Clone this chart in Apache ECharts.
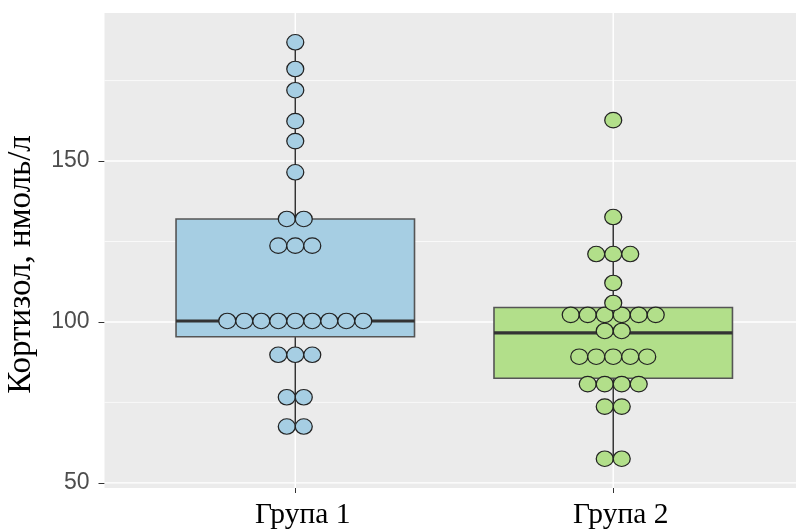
<!DOCTYPE html>
<html>
<head>
<meta charset="utf-8">
<script src="https://cdn.jsdelivr.net/npm/echarts@6/dist/echarts.min.js"></script>
<style>
  html, body { margin: 0; padding: 0; background: #fff; }
  #chart { width: 796px; height: 529px; }
</style>
</head>
<body>
<div id="chart"></div>
<script>
// Groups and their positions on the discrete x scale
const groups = ['Група 1', 'Група 2'];
const groupPositions = [1, 2];

// Five-number summaries: [lower whisker, Q1, median, Q3, upper whisker]
const boxGroup1 = [67.5, 95.4, 100.3, 132.0, 186.9];
const boxGroup2 = [57.5, 82.5, 96.6, 104.5, 132.6];

// Binned observations (bin centres), one entry per dot
const dotsGroup1 = [
  67.5, 67.5, 76.6, 76.6, 89.8, 89.8, 89.8,
  100.3, 100.3, 100.3, 100.3, 100.3, 100.3, 100.3, 100.3, 100.3,
  123.7, 123.7, 123.7, 132.0, 132.0,
  146.5, 156.2, 162.4, 172.0, 178.6, 186.9
];
const dotsGroup2 = [
  57.5, 57.5, 73.7, 73.7, 80.7, 80.7, 80.7, 80.7,
  89.2, 89.2, 89.2, 89.2, 89.2, 97.2, 97.2,
  102.2, 102.2, 102.2, 102.2, 102.2, 102.2,
  105.9, 112.1, 121.1, 121.1, 121.1, 132.6, 162.7
];

// Axis breaks
const yTicks = [50, 100, 150];
const yMinorBreaks = [75, 125, 175];

const fills = ['#A6CEE3', '#B2DF8A'];
const boxWidth = 0.75;
const dotW = 17, dotH = 15.5;

// Centred stacking: dots sharing a bin are spread sideways around the group centre
function stackDots(values, pos) {
  const counts = {};
  values.forEach(v => { counts[v] = (counts[v] || 0) + 1; });
  const seen = {};
  return values.map(v => {
    const i = seen[v] = (seen[v] === undefined ? 0 : seen[v] + 1);
    const dx = (i - (counts[v] - 1) / 2) * dotW;
    return { value: [pos, v], symbolOffset: [dx, 0] };
  });
}

const chart = echarts.init(document.getElementById('chart'), null, { renderer: 'canvas' });

const boxData = [
  [groupPositions[0]].concat(boxGroup1),
  [groupPositions[1]].concat(boxGroup2)
];

const option = {
  animation: false,
  grid: {
    left: 104.5, right: -8, top: 13, bottom: 41,
    outerBoundsMode: 'none', containLabel: false,
    show: true, backgroundColor: '#EBEBEB', borderWidth: 0
  },
  xAxis: {
    type: 'value', min: 0.4, max: 2.6,
    axisLine: { show: false },
    splitLine: { show: false },
    axisTick: { show: true, customValues: groupPositions, length: 5, lineStyle: { color: '#333', width: 1 } },
    axisLabel: {
      customValues: groupPositions,
      formatter: v => groups[Math.round(v) - 1],
      fontFamily: 'Liberation Serif', fontSize: 29.5, color: '#000', margin: 12,
      padding: [0, 0, 0, 15]
    }
  },
  yAxis: {
    type: 'value', min: 48.4, max: 196,
    axisLine: { show: false },
    splitLine: { show: false },
    axisTick: { show: true, customValues: yTicks, length: 6, lineStyle: { color: '#333', width: 1 } },
    axisLabel: {
      customValues: yTicks,
      fontFamily: 'Liberation Sans', fontSize: 23, color: '#4D4D4D', margin: 15
    },
    name: 'Кортизол, нмоль/л',
    nameLocation: 'middle', nameRotate: 90, nameGap: 67,
    nameTextStyle: { fontFamily: 'Liberation Serif', fontSize: 33, color: '#000', padding: [0, 28, 0, 0] }
  },
  series: [
    {
      // horizontal panel grid lines (major and minor)
      type: 'custom', silent: true, z: 1,
      data: yTicks.map(v => [1, v, 1.4]).concat(yMinorBreaks.map(v => [1, v, 0.7])),
      renderItem(params, api) {
        const cs = params.coordSys;
        const p = api.coord([1, api.value(1)]);
        return {
          type: 'line',
          shape: { x1: cs.x, y1: p[1], x2: cs.x + cs.width, y2: p[1] },
          style: { stroke: '#FFFFFF', lineWidth: api.value(2) }
        };
      }
    },
    {
      // vertical panel grid lines at each group
      type: 'custom', silent: true, z: 1,
      data: groupPositions.map(p => [p, 100]),
      renderItem(params, api) {
        const cs = params.coordSys;
        const p = api.coord([api.value(0), 100]);
        return {
          type: 'line',
          shape: { x1: p[0], y1: cs.y, x2: p[0], y2: cs.y + cs.height },
          style: { stroke: '#FFFFFF', lineWidth: 1.4 }
        };
      }
    },
    {
      // box and whiskers
      type: 'custom', silent: true, z: 2,
      data: boxData,
      encode: { x: 0, y: [1, 2, 3, 4, 5] },
      renderItem(params, api) {
        const x = api.value(0);
        const lo = api.value(1), q1 = api.value(2), med = api.value(3), q3 = api.value(4), hi = api.value(5);
        const h = boxWidth / 2;
        const pLo = api.coord([x, lo]), pHi = api.coord([x, hi]);
        const pQ1 = api.coord([x, q1]), pQ3 = api.coord([x, q3]);
        const bl = api.coord([x - h, q1]), tr = api.coord([x + h, q3]);
        const mL = api.coord([x - h, med]), mR = api.coord([x + h, med]);
        return {
          type: 'group',
          children: [
            { type: 'line', shape: { x1: pLo[0], y1: pLo[1], x2: pQ1[0], y2: pQ1[1] }, style: { stroke: '#333', lineWidth: 1.5 } },
            { type: 'line', shape: { x1: pQ3[0], y1: pQ3[1], x2: pHi[0], y2: pHi[1] }, style: { stroke: '#333', lineWidth: 1.5 } },
            { type: 'rect', shape: { x: bl[0], y: tr[1], width: tr[0] - bl[0], height: bl[1] - tr[1] },
              style: { fill: fills[params.dataIndex], stroke: '#555', lineWidth: 1.6 } },
            { type: 'line', shape: { x1: mL[0], y1: mL[1], x2: mR[0], y2: mR[1] }, style: { stroke: '#333', lineWidth: 3.2 } }
          ]
        };
      }
    },
    {
      type: 'scatter', z: 3, silent: true,
      symbol: 'circle', symbolSize: [dotW, dotH],
      itemStyle: { color: fills[0], borderColor: '#222', borderWidth: 1.2, opacity: 1 },
      data: stackDots(dotsGroup1, groupPositions[0])
    },
    {
      type: 'scatter', z: 3, silent: true,
      symbol: 'circle', symbolSize: [dotW, dotH],
      itemStyle: { color: fills[1], borderColor: '#222', borderWidth: 1.2, opacity: 1 },
      data: stackDots(dotsGroup2, groupPositions[1])
    }
  ]
};

chart.setOption(option);
</script>
</body>
</html>
